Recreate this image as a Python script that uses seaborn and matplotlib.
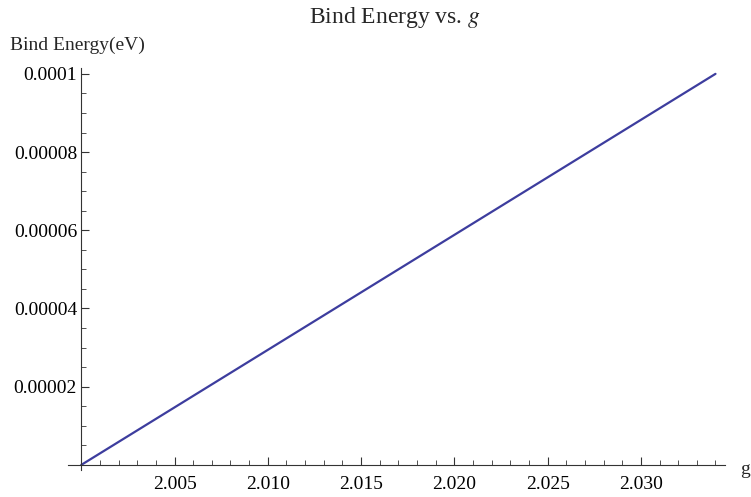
import numpy as np
import pandas as pd
import seaborn as sns
import matplotlib
matplotlib.use("Agg")
import matplotlib.pyplot as plt
from matplotlib.ticker import FixedLocator, MultipleLocator

# Data
g_values = [2.000, 2.0085, 2.017, 2.0255, 2.034]
bind_energy = [0.0, 0.000025, 0.00005, 0.000075, 0.0001]
x_ticks = [2.005, 2.010, 2.015, 2.020, 2.025, 2.030]
x_tick_labels = ["2.005", "2.010", "2.015", "2.020", "2.025", "2.030"]
y_ticks = [0.00002, 0.00004, 0.00006, 0.00008, 0.0001]
y_tick_labels = ["0.00002", "0.00004", "0.00006", "0.00008", "0.0001"]

sns.set_style("white")
plt.rcParams["font.family"] = ["Liberation Serif", "DejaVu Serif"]
plt.rcParams["mathtext.fontset"] = "stix"

df = pd.DataFrame({"g": g_values, "E": bind_energy})

fig = plt.figure(figsize=(7.51, 4.97), dpi=100)
ax = fig.add_axes([68 / 751, (497 - 470) / 497, (725 - 68) / 751, (470 - 68) / 497])

sns.lineplot(data=df, x="g", y="E", ax=ax, color="#3d3d9e", linewidth=1.6)

ax.set_xlim(1.99929, 2.03451)
ax.set_ylim(-0.0000013, 0.0001015)

for s in ["top", "right"]:
    ax.spines[s].set_visible(False)
ax.spines["left"].set_position(("data", 2.0))
ax.spines["bottom"].set_position(("data", 0.0))
for s in ["left", "bottom"]:
    ax.spines[s].set_color("#333333")
    ax.spines[s].set_linewidth(0.8)

ax.xaxis.set_major_locator(FixedLocator(x_ticks))
ax.set_xticklabels(x_tick_labels)
ax.xaxis.set_minor_locator(MultipleLocator(0.001))
ax.yaxis.set_major_locator(FixedLocator(y_ticks))
ax.set_yticklabels(y_tick_labels)
ax.yaxis.set_minor_locator(MultipleLocator(0.000005))

ax.tick_params(axis="both", which="major", direction="in", length=6, width=0.8,
               color="#333333", labelsize=14, labelcolor="black")
ax.tick_params(axis="both", which="minor", direction="in", length=3.5, width=0.6,
               color="#333333")
ax.tick_params(axis="x", which="both", bottom=True, top=False, pad=8)
ax.tick_params(axis="y", which="both", left=True, right=False, pad=3)
ax.set_xlabel("")
ax.set_ylabel("")
ax.grid(False)

fig.text(395 / 751, 1 - 18 / 497, "Bind Energy vs. $g$", ha="center", va="center", fontsize=17)
fig.text(10 / 751, 1 - 45 / 497, "Bind Energy(eV)", ha="left", va="center", fontsize=14)
fig.text(740 / 751, 1 - 470 / 497, "g", ha="left", va="center", fontsize=14)

fig.savefig("out.png", dpi=100)
